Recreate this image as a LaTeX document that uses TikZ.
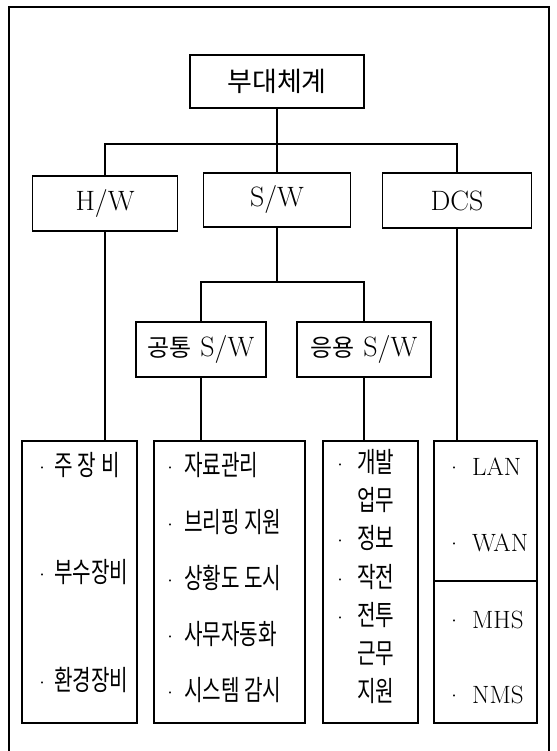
\documentclass[tikz,border=0pt]{standalone}
\usepackage{fontspec}
\newfontfamily\kr{Noto Sans CJK KR}
\newfontfamily\krn[FakeStretch=0.72]{Noto Sans CJK KR}
\begin{document}
\begin{tikzpicture}[x=1pt,y=-1pt,
  box/.style={draw, line width=1.7pt, inner sep=0pt, align=center},
  conn/.style={line width=1.2pt},
  latin/.style={font=\fontsize{28}{32}\selectfont},
  kor/.style={font=\kr\fontsize{27}{30}\selectfont},
  ktext/.style={anchor=base west, inner sep=0pt, font=\krn\fontsize{28}{30}\selectfont},
  ltext/.style={anchor=base west, inner sep=0pt, font=\fontsize{25}{30}\selectfont},
  dotn/.style={anchor=center, inner sep=0pt, yshift=-2.5pt, font=\fontsize{25}{30}\selectfont},
  frame/.style={line width=2.8pt}]
\useasboundingbox (0,0) rectangle (556,751);
\draw[frame] (9,751) -- (9,7) -- (549,7) -- (549,751);
% level 0/1
\node[box,kor,minimum width=174,minimum height=53] (top) at (277,81.5) {부대체계};
\node[box,latin,minimum width=145,minimum height=55] (hw) at (105,203.5) {H/W};
\node[box,latin,minimum width=147,minimum height=54] (sw) at (277,200) {S/W};
\node[box,latin,minimum width=149,minimum height=55] (dcs) at (457,200.5) {DCS};
\coordinate (j1) at (277,144);
\draw[conn] (top.south) -- (j1);
\draw[conn] (hw.north) |- (j1) -| (dcs.north);
\draw[conn] (j1) -- (sw.north);
% level 2
\node[box,latin,minimum width=130,minimum height=55] (com) at (201,349.5) {{\kr\fontsize{24}{28}\selectfont 공통} S/W};
\node[box,latin,minimum width=134,minimum height=55] (app) at (364,349.5) {{\kr\fontsize{24}{28}\selectfont 응용} S/W};
\coordinate (j2) at (277,282);
\draw[conn] (sw.south) -- (j2);
\draw[conn] (com.north) |- (j2) -| (app.north);
% bottom boxes
\node[box,minimum width=115,minimum height=282] (b1) at (79.5,582) {};
\node[box,minimum width=151,minimum height=282] (b2) at (229.5,582) {};
\node[box,minimum width=95,minimum height=282] (b3) at (370.5,582) {};
\node[box,minimum width=103,minimum height=282] (b4) at (485.5,582) {};
\draw[conn] (hw.south) -- (hw.south |- b1.north);
\draw[conn] (com.south) -- (com.south |- b2.north);
\draw[conn] (app.south) -- (app.south |- b3.north);
\draw[conn] (dcs.south) -- (dcs.south |- b4.north);
\coordinate (d4) at (485.5,581);
\draw[box] (b4.west |- d4) -- (b4.east |- d4);
% column 1
\node[dotn] (p11) at (42,469.5) {\textperiodcentered};
\node[ktext] (i11) at (54,475) {주\hspace{5pt}장\hspace{5pt}비};
\node[dotn] (p12) at (42,576.5) {\textperiodcentered};
\node[ktext] (i12) at (54,582) {부수장비};
\node[dotn] (p13) at (42,684.5) {\textperiodcentered};
\node[ktext] (i13) at (54,690) {환경장비};
% column 2
\node[dotn] (p21) at (170,469.5) {\textperiodcentered};
\node[ktext] (i21) at (184,475) {자료관리};
\node[dotn] (p22) at (170,526.5) {\textperiodcentered};
\node[ktext] (i22) at (184,532) {브리핑 지원};
\node[dotn] (p23) at (170,582.5) {\textperiodcentered};
\node[ktext] (i23) at (184,588) {상황도 도시};
\node[dotn] (p24) at (170,638.5) {\textperiodcentered};
\node[ktext] (i24) at (184,644) {사무자동화};
\node[dotn] (p25) at (170,694.5) {\textperiodcentered};
\node[ktext] (i25) at (184,700) {시스템 감시};
% column 3
\node[dotn] (p31) at (340,466.5) {\textperiodcentered};
\node[ktext] (i31) at (357,472) {개발};
\node[ktext] (i32) at (357,510) {업무};
\node[dotn] (p33) at (340,542.5) {\textperiodcentered};
\node[ktext] (i33) at (357,548) {정보};
\node[dotn] (p34) at (340,581.5) {\textperiodcentered};
\node[ktext] (i34) at (357,587) {작전};
\node[dotn] (p35) at (340,619.5) {\textperiodcentered};
\node[ktext] (i35) at (357,625) {전투};
\node[ktext] (i36) at (357,663) {근무};
\node[ktext] (i37) at (357,701) {지원};
% column 4
\node[dotn] (p41) at (454,469.5) {\textperiodcentered};
\node[ltext] (i41) at (472,475.5) {LAN};
\node[dotn] (p42) at (454,545.5) {\textperiodcentered};
\node[ltext] (i42) at (472,551.5) {WAN};
\node[dotn] (p43) at (454,622.5) {\textperiodcentered};
\node[ltext] (i43) at (472,628.5) {MHS};
\node[dotn] (p44) at (454,697.5) {\textperiodcentered};
\node[ltext] (i44) at (472,703.5) {NMS};
\end{tikzpicture}
\end{document}
